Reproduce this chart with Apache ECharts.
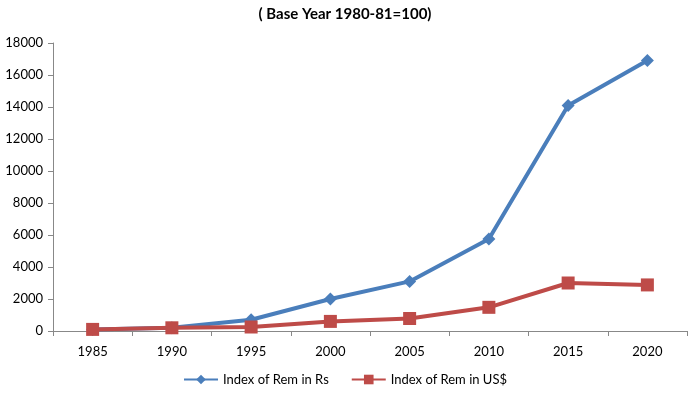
<!DOCTYPE html>
<html>
<head>
<meta charset="utf-8">
<script src="https://cdn.jsdelivr.net/npm/echarts@6/dist/echarts.min.js"></script>
<style>
  html, body { margin: 0; padding: 0; background: #fff; }
  #chart { width: 690px; height: 393px; }
</style>
</head>
<body>
<div id="chart"></div>
<script>
const years = ["1985", "1990", "1995", "2000", "2005", "2010", "2015", "2020"];
const remRs = [100, 200, 700, 2000, 3100, 5750, 14100, 16900];
const remUsd = [100, 200, 250, 600, 780, 1480, 3000, 2880];

const chart = echarts.init(document.getElementById("chart"));
const font = "Lato, 'Open Sans', sans-serif";

chart.setOption({
  animation: false,
  title: {
    text: "( Base Year 1980-81=100)",
    left: "center",
    top: 2,
    textStyle: { fontFamily: font, fontSize: 15, fontWeight: "bold", color: "#000" }
  },
  legend: {
    bottom: 2,
    itemWidth: 34,
    itemHeight: 12,
    itemGap: 22,
    textStyle: { fontFamily: font, fontSize: 13, color: "#000" },
    data: ["Index of Rem in Rs", "Index of Rem in US$"]
  },
  grid: { left: 53, right: 3, top: 43, bottom: 62 },
  xAxis: {
    type: "category",
    data: years,
    boundaryGap: true,
    axisLine: { lineStyle: { color: "#888", width: 1 } },
    axisTick: { show: true, length: 5, lineStyle: { color: "#888" } },
    axisLabel: { fontFamily: font, fontSize: 13, color: "#000", margin: 14 }
  },
  yAxis: {
    type: "value",
    min: 0,
    max: 18000,
    interval: 2000,
    axisLine: { show: true, lineStyle: { color: "#888", width: 1 } },
    axisTick: { show: true, length: 5, lineStyle: { color: "#888" } },
    splitLine: { show: false },
    axisLabel: { fontFamily: font, fontSize: 13, color: "#000", margin: 10, formatter: v => String(v) }
  },
  series: [
    {
      name: "Index of Rem in Rs",
      type: "line",
      data: remRs,
      symbol: "diamond",
      symbolSize: 13,
      lineStyle: { color: "#4a7ebb", width: 4 },
      itemStyle: { color: "#4a7ebb" }
    },
    {
      name: "Index of Rem in US$",
      type: "line",
      data: remUsd,
      symbol: "rect",
      symbolSize: 13,
      lineStyle: { color: "#be4b48", width: 4 },
      itemStyle: { color: "#be4b48" }
    }
  ]
});
</script>
</body>
</html>
